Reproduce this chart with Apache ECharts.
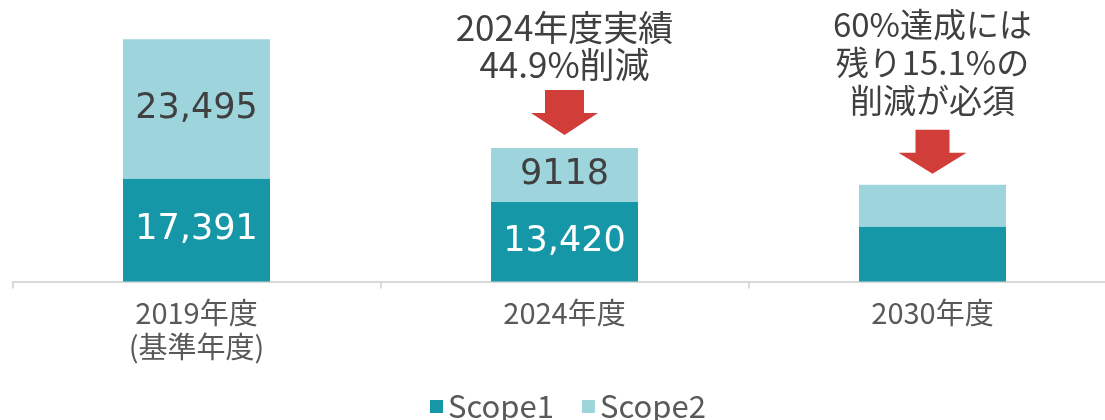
<!DOCTYPE html>
<html>
<head>
<meta charset="utf-8">
<script src="https://cdn.jsdelivr.net/npm/echarts@6/dist/echarts.min.js"></script>
<style>
  html, body { margin: 0; padding: 0; background: #fff; }
  #chart { width: 1105px; height: 420px; }
</style>
</head>
<body>
<div id="chart"></div>
<script>
// データ
const categories = ['2019年度\n(基準年度)', '2024年度', '2030年度'];
const scope1 = [17391, 13420, 9300];
const scope2 = [23495, 9118, 7054];
const scope1Labels = ['17,391', '13,420', ''];
const scope2Labels = ['23,495', '9118', ''];
const notes = ['', '2024年度実績\n44.9%削減', '60%達成には\n残り15.1%の\n削減が必須'];

const FONT = "'Noto Sans CJK JP', 'Noto Sans', sans-serif";
const NUM_FONT = "'DejaVu Sans', 'Noto Sans', sans-serif";
const C1 = '#1597a7';
const C2 = '#9ed5dd';
const RED = '#d13e3a';

const chart = echarts.init(document.getElementById('chart'));

const totals = scope1.map((v, i) => v + scope2[i]);

// 矢印 + 注記
const arrowA = 'path://M14,0 L53,0 L53,23 L67,23 L33.5,45 L0,23 L14,23 Z';
const arrowB = 'path://M17,0 L51,0 L51,23 L68,23 L34,44 L0,23 L17,23 Z';
const markData = [
  {
    coord: [1, totals[1]],
    symbol: arrowA,
    symbolSize: [67, 45],
    symbolOffset: [0, -35.5],
    label: { formatter: notes[1], fontSize: 35, lineHeight: 37, distance: 7 }
  },
  {
    coord: [2, totals[2]],
    symbol: arrowB,
    symbolSize: [68, 44],
    symbolOffset: [0, -33],
    label: { formatter: notes[2], fontSize: 33, lineHeight: 38, distance: 10 }
  }
];

const option = {
  animation: false,
  textStyle: { fontFamily: FONT },
  grid: {
    left: 12.5,
    top: 15,
    width: 1104,
    bottom: 138.5,
    containLabel: false,
    outerBoundsMode: 'none'
  },
  legend: {
    data: ['Scope1', 'Scope2'],
    left: 430,
    top: 391,
    icon: 'rect',
    itemWidth: 13,
    itemHeight: 13,
    itemGap: 28,
    padding: 0,
    textStyle: { fontSize: 31, lineHeight: 31, color: '#595959', fontFamily: FONT }
  },
  xAxis: {
    type: 'category',
    data: categories,
    axisLine: { lineStyle: { color: '#d9d9d9', width: 2 } },
    axisTick: { show: true, length: 7, lineStyle: { color: '#d9d9d9', width: 2 } },
    axisLabel: {
      fontSize: 29,
      lineHeight: 34,
      margin: 14,
      color: '#595959',
      fontFamily: FONT
    }
  },
  yAxis: {
    type: 'value',
    min: 0,
    max: 45000,
    show: false,
    splitLine: { show: false }
  },
  series: [
    {
      name: 'Scope1',
      type: 'bar',
      stack: 'total',
      barWidth: 147,
      data: scope1,
      itemStyle: { color: C1 },
      label: {
        show: true,
        position: 'inside',
        color: '#fff',
        fontSize: 35,
        fontFamily: NUM_FONT,
        formatter: p => scope1Labels[p.dataIndex]
      }
    },
    {
      name: 'Scope2',
      type: 'bar',
      stack: 'total',
      barWidth: 147,
      data: scope2,
      itemStyle: { color: C2 },
      label: {
        show: true,
        position: 'inside',
        color: '#404040',
        fontSize: 35,
        fontFamily: NUM_FONT,
        formatter: p => scope2Labels[p.dataIndex]
      },
      markPoint: {
        silent: true,
        itemStyle: { color: RED },
        label: {
          show: true,
          position: 'top',
          color: '#404040',
          fontFamily: FONT
        },
        data: markData
      }
    }
  ]
};

chart.setOption(option);
</script>
</body>
</html>
